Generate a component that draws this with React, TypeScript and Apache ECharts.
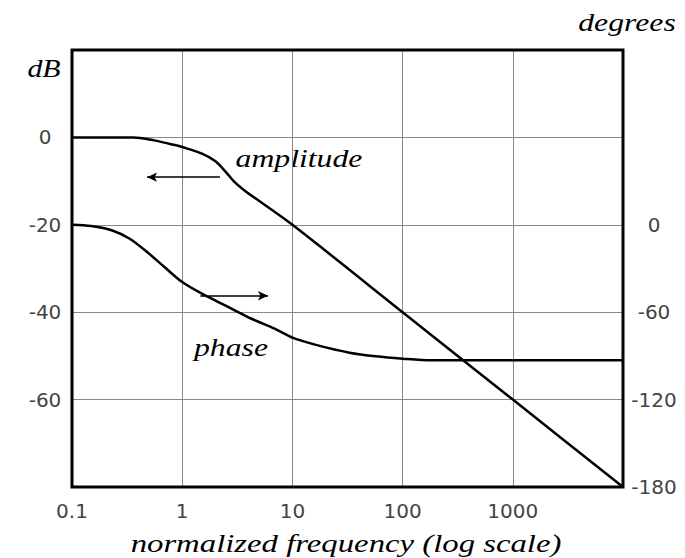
import React, { useEffect, useRef } from "react";
import * as echarts from "echarts";

const xTickLabels = ["0.1", "1", "10", "100", "1000"];
const dbTicks = [0, -20, -40, -60];
const degTicks = [0, -60, -120, -180];

const ampFreq = [0.1, 0.36, 0.556, 0.86, 1, 1.51, 1.99, 2.45, 3.01, 3.7, 10, 100, 1000, 10000];
const ampDb = [0, 0, -0.68, -1.76, -2.2, -3.7, -5.4, -7.7, -10.3, -12.2, -20, -40, -60, -80];

const phaseFreq = [0.1, 0.149, 0.232, 0.334, 0.48, 0.69, 1, 1.51, 2.45, 4.26, 6.89, 10, 17, 33, 57, 100, 181, 10000];
const phaseDeg = [0, -0.9, -3.9, -9.6, -18.7, -29, -39.3, -47.3, -55.3, -64.5, -71.3, -77.5, -82.8, -87.8, -90.3, -91.9, -93, -93];

const ampArrow = [[2.2, -9.1], [0.48, -9.1]];
const phaseArrow = [[1.46, -48.7], [6.0, -48.7]];

const serif = "Liberation Serif";

export default function App() {
  const ref = useRef<HTMLDivElement>(null);
  useEffect(() => {
    const chart = echarts.init(ref.current!, null, { renderer: "svg" });
    const tickFont = { fontFamily: "DejaVu Sans", fontSize: 20, color: "#444" };
    const italicText = (text: string, x: number, y: number, size: number, sx: number) => ({
      type: "text",
      x,
      y,
      scaleX: sx,
      silent: true,
      style: {
        text,
        x: 0,
        y: 0,
        align: "center",
        verticalAlign: "middle",
        fontFamily: serif,
        fontStyle: "italic",
        fontSize: size,
        fill: "#000",
      },
    });
    const arrowMark = (coords: number[][]) => ({
      silent: true,
      symbol: ["none", "arrow"],
      symbolSize: [7, 10],
      label: { show: false },
      lineStyle: { color: "#000", width: 1.5, type: "solid" },
      data: [[{ coord: coords[0] }, { coord: coords[1] }]],
    });
    chart.setOption({
      animation: false,
      backgroundColor: "#fff",
      grid: {
        left: 72,
        right: 62,
        top: 50,
        bottom: 71,
        show: true,
        borderColor: "#000",
        borderWidth: 3,
        backgroundColor: "transparent",
        z: 3,
      },
      xAxis: {
        type: "log",
        logBase: 10,
        min: 0.1,
        max: 10000,
        axisLine: { show: false },
        axisTick: { show: false },
        splitLine: { show: true, lineStyle: { color: "#888", width: 1 } },
        axisLabel: {
          ...tickFont,
          margin: 14,
          formatter: (v: number) => {
            const idx = Math.round(Math.log10(v)) + 1;
            return xTickLabels[idx] ?? "";
          },
        },
      },
      yAxis: [
        {
          type: "value",
          min: -80,
          max: 20,
          interval: 20,
          axisLine: { show: false },
          axisTick: { show: false },
          splitLine: { show: true, lineStyle: { color: "#888", width: 1 } },
          axisLabel: {
            ...tickFont,
            align: "center",
            margin: 27,
            formatter: (v: number) => (dbTicks.includes(v) ? String(v) : ""),
          },
        },
        {
          type: "value",
          position: "right",
          min: -180,
          max: 120,
          interval: 60,
          axisLine: { show: false },
          axisTick: { show: false },
          splitLine: { show: false },
          axisLabel: {
            ...tickFont,
            align: "center",
            margin: 31,
            formatter: (v: number) => (degTicks.includes(v) ? String(v) : ""),
          },
        },
      ],
      series: [
        {
          name: "amplitude",
          type: "line",
          yAxisIndex: 0,
          data: ampFreq.map((f, i) => [f, ampDb[i]]),
          showSymbol: false,
          smooth: 0.3,
          lineStyle: { color: "#000", width: 2.5, join: "round" },
          z: 4,
          markLine: arrowMark(ampArrow),
        },
        {
          name: "phase",
          type: "line",
          yAxisIndex: 1,
          data: phaseFreq.map((f, i) => [f, phaseDeg[i]]),
          showSymbol: false,
          smooth: 0.3,
          lineStyle: { color: "#000", width: 2.5, join: "round" },
          z: 4,
          markLine: arrowMark(phaseArrow),
        },
      ],
      graphic: [
        italicText("dB", 44, 68, 26, 1.15),
        italicText("degrees", 627, 22, 26, 1.22),
        italicText("amplitude", 299, 158, 26, 1.22),
        italicText("phase", 231, 347, 26, 1.22),
        italicText("normalized frequency (log scale)", 346, 543, 26, 1.26),
      ],
    });
    return () => chart.dispose();
  }, []);
  return <div ref={ref} style={{ position: "absolute", left: 0, top: 0, width: 685, height: 558 }} />;
}
